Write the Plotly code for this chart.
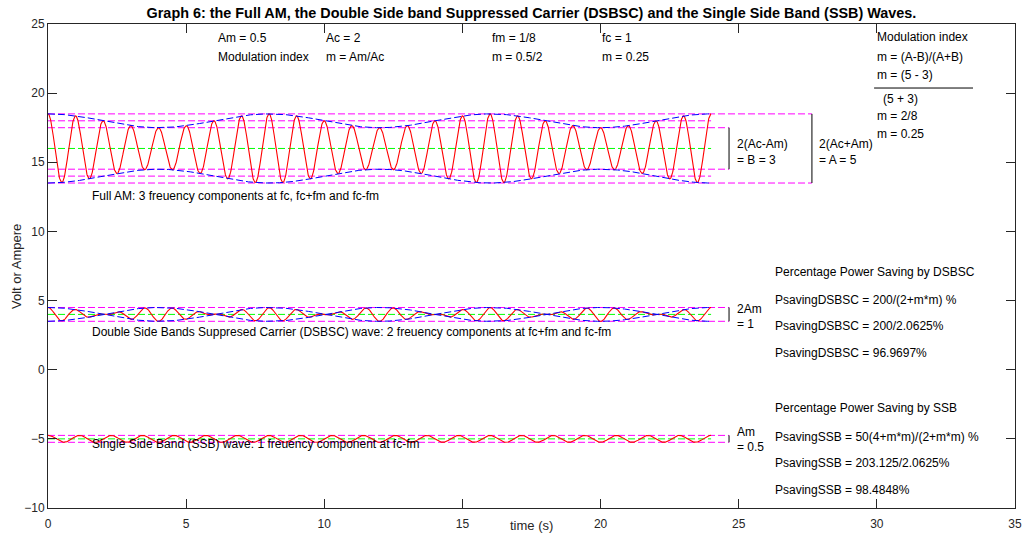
import numpy as np
import plotly.graph_objects as go

# ---- parameters ----
Am = 0.5
Ac = 2.0
fm = 1 / 8
fc = 1.0
t_end = 24.0
full_offset = 16.0
dsb_offset = 4.0
ssb_offset = -5.0

t = np.linspace(0, t_end, 2401)

full_am = full_offset + (Ac + Am * np.cos(2 * np.pi * fm * t)) * np.cos(2 * np.pi * fc * t)
full_env_top = full_offset + (Ac + Am * np.cos(2 * np.pi * fm * t))
full_env_bot = full_offset - (Ac + Am * np.cos(2 * np.pi * fm * t))

dsb = dsb_offset + Am * np.cos(2 * np.pi * fm * t) * np.cos(2 * np.pi * fc * t)
dsb_env_top = dsb_offset + Am * np.cos(2 * np.pi * fm * t)
dsb_env_bot = dsb_offset - Am * np.cos(2 * np.pi * fm * t)

ssb = ssb_offset + (Am / 2) * np.cos(2 * np.pi * (fc - fm) * t)

# reference levels: (level, x_end)
magenta_levels = [
    (18.5, 27.65), (18.0, 24.0), (17.5, 24.65), (14.5, 24.65), (14.0, 24.0), (13.5, 27.65),
    (4.5, 24.65), (3.5, 24.65),
    (-4.75, 24.65), (-5.25, 24.65),
]
green_levels = [(16.0, 24.0), (4.0, 24.0), (-5.0, 24.0)]

# bracket lines: (x, y0, y1)
brackets = [
    (24.65, 17.5, 14.5),
    (27.65, 18.5, 13.5),
    (24.65, 4.5, 3.5),
    (24.65, -4.75, -5.25),
]
fraction_line = ([29.9, 33.48], [20.37, 20.37])

# text annotations: (x, y, text)
texts = [
    (6.08, 24.0, "Am = 0.5"), (6.08, 22.61, "Modulation index"),
    (9.99, 24.0, "Ac = 2"), (9.99, 22.61, "m = Am/Ac"),
    (16.0, 24.0, "fm = 1/8"), (16.0, 22.61, "m = 0.5/2"),
    (19.98, 24.0, "fc = 1"), (19.98, 22.61, "m = 0.25"),
    (29.93, 24.06, "Modulation index"),
    (29.93, 22.61, "m = (A-B)/(A+B)"),
    (29.93, 21.31, "m = (5 - 3)"),
    (30.15, 19.58, "(5 + 3)"),
    (29.93, 18.35, "m = 2/8"),
    (29.93, 17.05, "m = 0.25"),
    (24.86, 16.32, "2(Ac-Am)"), (24.86, 15.17, "= B = 3"),
    (27.83, 16.32, "2(Ac+Am)"), (27.83, 15.17, "= A = 5"),
    (1.52, 12.56, "Full AM: 3 freuency components at fc, fc+fm and fc-fm"),
    (24.86, 4.39, "2Am"), (24.86, 3.31, "= 1"),
    (1.52, 2.73, "Double Side Bands Suppresed Carrier (DSBSC) wave: 2 freuency components at fc+fm and fc-fm"),
    (24.86, -4.50, "Am"), (24.86, -5.59, "= 0.5"),
    (1.52, -5.37, "Single Side Band (SSB) wave: 1 freuency component at fc-fm"),
    (26.24, 7.07, "Percentage Power Saving by DSBSC"),
    (26.24, 5.04, "PsavingDSBSC = 200/(2+m*m) %"),
    (26.24, 3.16, "PsavingDSBSC = 200/2.0625%"),
    (26.24, 1.21, "PsavingDSBSC = 96.9697%"),
    (26.24, -2.77, "Percentage Power Saving by SSB"),
    (26.24, -4.87, "PsavingSSB = 50(4+m*m)/(2+m*m) %"),
    (26.24, -6.74, "PsavingSSB = 203.125/2.0625%"),
    (26.24, -8.69, "PsavingSSB = 98.4848%"),
]

x_ticks = [0, 5, 10, 15, 20, 25, 30, 35]
y_ticks = [-10, -5, 0, 5, 10, 15, 20, 25]

FONT = "Liberation Sans, Arial, sans-serif"
DASH = "7px,3px"

fig = go.Figure()

for lvl, xe in magenta_levels:
    fig.add_trace(go.Scatter(x=[0, xe], y=[lvl, lvl], mode="lines",
                             line=dict(color="#ff00ff", width=1, dash=DASH),
                             showlegend=False, hoverinfo="skip"))
for lvl, xe in green_levels:
    fig.add_trace(go.Scatter(x=[0, xe], y=[lvl, lvl], mode="lines",
                             line=dict(color="#00ff00", width=1, dash=DASH),
                             showlegend=False, hoverinfo="skip"))

for y in [full_am, dsb, ssb]:
    fig.add_trace(go.Scatter(x=t, y=y, mode="lines",
                             line=dict(color="#ff0000", width=1.1),
                             showlegend=False, hoverinfo="skip"))

for y in [full_env_top, full_env_bot, dsb_env_top, dsb_env_bot]:
    fig.add_trace(go.Scatter(x=t, y=y, mode="lines",
                             line=dict(color="#0000ff", width=1, dash=DASH),
                             showlegend=False, hoverinfo="skip"))

for bx, y0, y1 in brackets:
    fig.add_trace(go.Scatter(x=[bx, bx], y=[y0, y1], mode="lines",
                             line=dict(color="black", width=1),
                             showlegend=False, hoverinfo="skip"))
fig.add_trace(go.Scatter(x=fraction_line[0], y=fraction_line[1], mode="lines",
                         line=dict(color="black", width=1),
                         showlegend=False, hoverinfo="skip"))

for x, y, s in texts:
    fig.add_annotation(x=x, y=y, text=s, showarrow=False, xanchor="left", yanchor="middle",
                       xref="x", yref="y", font=dict(family=FONT, size=12, color="black"))

# axis titles as paper annotations (positions relative to plot area)
fig.add_annotation(x=0.5, y=-0.037, xref="paper", yref="paper", text="time (s)",
                   showarrow=False, xanchor="center", yanchor="middle",
                   font=dict(family=FONT, size=13, color="#262626"))
fig.add_annotation(x=-0.0331, y=0.5, xref="paper", yref="paper", text="Volt or Ampere",
                   showarrow=False, xanchor="center", yanchor="middle", textangle=-90,
                   font=dict(family=FONT, size=13, color="#262626"))

fig.update_layout(
    width=1024, height=548,
    margin=dict(l=48, r=9, t=24, b=40),
    paper_bgcolor="white", plot_bgcolor="white",
    title=dict(text="<b>Graph 6: the Full AM, the Double Side band Suppressed Carrier (DSBSC) and the Single Side Band (SSB) Waves.</b>",
               x=0.519, xanchor="center", y=0.9763, yanchor="middle",
               font=dict(family=FONT, size=14.4, color="black")),
    font=dict(family=FONT, size=12, color="#262626"),
    hovermode=False,
)
fig.update_xaxes(range=[0, 35], tickvals=x_ticks, ticks="inside", ticklen=9, tickcolor="#262626",
                 showline=True, linecolor="#262626", linewidth=1, mirror="ticks",
                 showgrid=False, zeroline=False, automargin=False, ticklabelstandoff=5)
fig.update_yaxes(range=[-10, 25], tickvals=y_ticks, ticks="inside", ticklen=9, tickcolor="#262626",
                 showline=True, linecolor="#262626", linewidth=1, mirror="ticks",
                 showgrid=False, zeroline=False, automargin=False)

# remove the default page margin so the 1024x548 figure fills the window exactly
fig.write_html("out.html",
               config={"displayModeBar": False},
               post_script="document.body.style.margin='0px';document.body.style.overflow='hidden';")
